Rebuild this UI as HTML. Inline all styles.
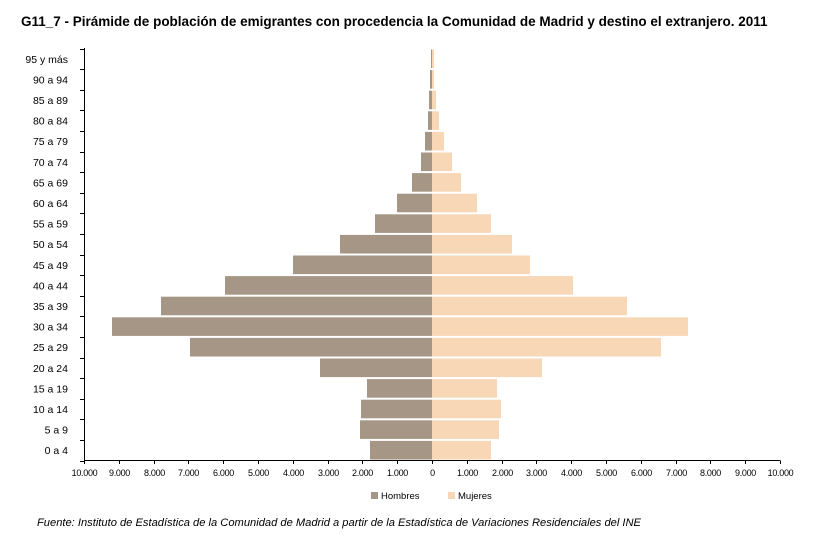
<!DOCTYPE html>
<html><head><meta charset="utf-8"><style>
body{margin:0;background:#fff}
svg{display:block}
text{font-family:"Liberation Sans",Arial,sans-serif;fill:#000}
</style></head><body>
<svg width="838" height="539" viewBox="0 0 838 539" xmlns="http://www.w3.org/2000/svg">
<text x="21" y="26" font-size="13.5" font-weight="bold">G11_7 - Pirámide de población de emigrantes con procedencia la Comunidad de Madrid y destino el extranjero. 2011</text>
<g id="bars"></g>
<g id="axes" stroke="#000" stroke-width="1"></g>
<g id="labels"></g>
<rect x="371" y="492" width="7" height="7" fill="#a69685"/>
<text x="381" y="499" font-size="9.5">Hombres</text>
<rect x="448" y="492" width="7" height="7" fill="#f8d7b7"/>
<text x="458" y="499" font-size="9.5">Mujeres</text>
<text x="37" y="526" font-size="11.15" font-style="italic">Fuente: Instituto de Estadística de la Comunidad de Madrid a partir de la Estadística de Variaciones Residenciales del INE</text>
</svg>
<script>
(function(){
var ns="http://www.w3.org/2000/svg";
function el(t,a,p,txt){var e=document.createElementNS(ns,t);for(var k in a)e.setAttribute(k,a[k]);if(txt!=null)e.textContent=txt;document.getElementById(p).appendChild(e);}
var cats=["95 y más","90 a 94","85 a 89","80 a 84","75 a 79","70 a 74","65 a 69","60 a 64","55 a 59","50 a 54","45 a 49","40 a 44","35 a 39","30 a 34","25 a 29","20 a 24","15 a 19","10 a 14","5 a 9","0 a 4"];
var L=[431,430,429,428,425,421,412,397,375,340,293,225,161,112,190,320,367,361,360,370];
var R=[434,434,436,439,444,452,461,477,491,512,530,573,627,688,661,542,497,501,499,491];
var T0=48.5,h=20.6;
for(var i=0;i<20;i++){
 var y=T0+i*h+1;
 el("rect",{x:L[i],y:y,width:432-L[i],height:h-2,fill:"#a69685"},"bars");
 el("rect",{x:432,y:y,width:R[i]-432,height:h-2,fill:"#f8d7b7"},"bars");
 el("text",{x:68,y:y+h/2+3,"font-size":"10.5","text-anchor":"end"},"labels",cats[i]);
}
el("line",{x1:84.5,y1:48,x2:84.5,y2:460.5},"axes");
el("line",{x1:84,y1:460.5,x2:780,y2:460.5},"axes");
for(var i=0;i<=20;i++){var y=Math.round(T0+i*h)+0.5;el("line",{x1:80,y1:y,x2:84.5,y2:y},"axes");}
var tl=["10.000","9.000","8.000","7.000","6.000","5.000","4.000","3.000","2.000","1.000","0","1.000","2.000","3.000","4.000","5.000","6.000","7.000","8.000","9.000","10.000"];
for(var k=0;k<=20;k++){var x=Math.round(84+k*34.8)+0.5;el("line",{x1:x,y1:460.5,x2:x,y2:464},"axes");
 el("text",{x:x,y:476,"font-size":"9","text-anchor":"middle","letter-spacing":"-0.3"},"labels",tl[k]);}
})();
</script>
</body></html>
